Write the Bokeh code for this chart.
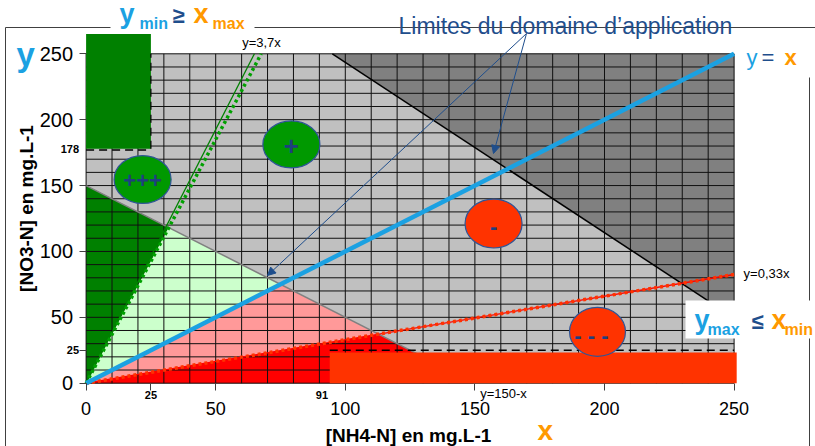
import math
import numpy as np
from bokeh.plotting import figure
from bokeh.models import Range1d, LinearAxis, FixedTicker, Arrow, NormalHead
from bokeh.core.properties import value
from bokeh.embed import file_html
from bokeh.resources import INLINE

# ---------------- data ----------------
x_ticks = [0, 25, 50, 100, 150, 200, 250]
y_ticks = [0, 25, 50, 100, 150, 200, 250]
x_marks = [25, 91]
y_marks = [25, 178]
axis_max = 250
grid_step = 10

slope_high = 3.7          # y = 3,7x
slope_high_trace = 3.85   # solid trace drawn next to it
slope_equal = 1.0         # y = x
slope_low = 0.33          # y = 0,33x
sum_limit = 150           # y = 150 - x
domain_top_x = [95, 240]  # upper limit of the application domain
domain_top_y = [250, 62.5]

green_zone_x = [0, 25]      # x_max
green_zone_y = [178, 265]   # y_min
red_zone_x = [94, 251]
red_zone_y = [0, 23.3]
red_limit_y = 25

classes = ["+++", "+", "-", "-  -  -"]
class_x = [21.8, 79.2, 157.2, 197.3]
class_y = [154.6, 181.2, 121.2, 39.0]
class_w = [22.0, 22.0, 22.0, 21.6]
class_h = [36.4, 35.7, 37.2, 37.2]
class_fill = ["#009900", "#009900", "#FF3300", "#FF3300"]

# ---------------- layout helpers (pixel -> data) ----------------
W, H = 815, 446
X0PX, SX = 85.6, 2.592
Y0PX, SY = 382.7, 1.3176
def dx(px): return (px - X0PX) / SX
def dy(py): return (Y0PX - py) / SY

BLUE = "#1BA1E2"
NAVY = "#1F4E8C"
ORANGE = "#FF9900"
FONT = "Liberation Sans"

p = figure(width=W, height=H, output_backend="svg", toolbar_location=None,
           x_range=Range1d(dx(0), dx(W)), y_range=Range1d(dy(H), dy(0)),
           x_axis_location=None, y_axis_location=None, min_border=0)
p.outline_line_color = None
p.grid.visible = False
p.background_fill_color = "white"

def txt(xpx, base_px, s, size, color="black", style="normal", align="left", angle=0.0):
    # anchor on the text's middle, placed so that the baseline lands at base_px
    p.text(x=[dx(xpx)], y=[dy(base_px - 0.3 * size)], text=[s], text_font=value(FONT),
           text_font_size=value(f"{size}px"), text_font_style=value(style),
           text_color=color, text_align=value(align), text_baseline=value("middle"),
           angle=angle)

# background
p.quad(left=[0], right=[axis_max], bottom=[0], top=[axis_max], fill_color="#C0C0C0", line_color=None)

# dark grey region above the domain's upper limit
k = (domain_top_y[1] - domain_top_y[0]) / (domain_top_x[1] - domain_top_x[0])
y_at_max = domain_top_y[0] + k * (axis_max - domain_top_x[0])
p.patch([domain_top_x[0], axis_max, axis_max], [axis_max, axis_max, y_at_max],
        fill_color="#808080", line_color=None)

# regions below y = 150 - x
xa = sum_limit / (1 + slope_high)
xb = sum_limit / (1 + slope_equal)
xc = sum_limit / (1 + slope_low)
p.patch([0, 0, xa], [0, sum_limit, sum_limit - xa], fill_color="#008000", line_color=None)
p.patch([0, xa, xb], [0, sum_limit - xa, sum_limit - xb], fill_color="#CCFFCC", line_color=None)
p.patch([0, xb, xc], [0, sum_limit - xb, sum_limit - xc], fill_color="#FF9999", line_color=None)
p.patch([0, xc, sum_limit], [0, sum_limit - xc, 0], fill_color="#FF0000", line_color=None)

# grid
g = np.arange(0, axis_max + grid_step, grid_step)
p.segment(x0=g, y0=0, x1=g, y1=axis_max, line_color="#101010", line_width=1)
p.segment(x0=0, y0=g, x1=axis_max, y1=g, line_color="#101010", line_width=1)

# limit lines
p.line([0, sum_limit], [sum_limit, 0], line_color="#808080", line_width=1.5)
p.line([domain_top_x[0], axis_max], [domain_top_y[0], y_at_max], line_color="black", line_width=1.5)

# y = 3,7x
p.line([0, axis_max / slope_high_trace], [0, axis_max], line_color="#008000", line_width=1.3)
p.line([0, axis_max / slope_high], [0, axis_max], line_color="#00A000", line_width=3.5, line_dash="3 3")
# y = 0,33x
p.line([0, axis_max], [0, axis_max * slope_low], line_color="#FF0000", line_width=1.3)
p.line([0, axis_max], [0, axis_max * slope_low], line_color="#FF3300", line_width=3.5, line_dash="3 3")
# y = x
p.line([0, axis_max], [0, axis_max * slope_equal], line_color=BLUE, line_width=4.5)

# y_min >= x_max zone
p.quad(left=[green_zone_x[0]], right=[green_zone_x[1]], bottom=[green_zone_y[0]], top=[green_zone_y[1]],
       fill_color="#008000", line_color=None)
p.line([0, green_zone_x[1]], [green_zone_y[0] - 1, green_zone_y[0] - 1], line_color="black",
       line_width=1.5, line_dash="8 5")
p.line([green_zone_x[1], green_zone_x[1]], [green_zone_y[0], axis_max], line_color="black",
       line_width=1.2, line_dash="8 5")

# y_max <= x_min zone
p.line([red_zone_x[0], axis_max], [red_limit_y, red_limit_y], line_color="black",
       line_width=1.5, line_dash="8 5")
p.quad(left=[red_zone_x[0]], right=[red_zone_x[1]], bottom=[red_zone_y[0]], top=[red_zone_y[1]],
       fill_color="#FF3300", line_color=None)

# class ellipses
p.ellipse(x=class_x, y=class_y, width=class_w, height=class_h, fill_color=class_fill,
          line_color="#2F5597", line_width=1.2)
sizes = [22, 26, 22, 22]
offs = [-1, -1, -2.5, -2.5]
for cx, cy, s, fs, o in zip(class_x, class_y, classes, sizes, offs):
    p.text(x=[cx], y=[cy + o], text=[s], text_font=value(FONT), text_font_size=value(f"{fs}px"),
           text_font_style=value("bold"), text_color="#1F3F7F", text_align=value("center"),
           text_baseline=value("middle"))

# small line labels
txt(261, 46, "y=3,7x", 13, align="center")
txt(766, 277, "y=0,33x", 13, align="center")
txt(503, 397, "y=150-x", 13, align="center")

# slide frame lines
p.line([dx(5), dx(110)], [dy(27), dy(27)], line_color="#404040", line_width=1)
p.line([dx(254), dx(W)], [dy(27), dy(27)], line_color="#404040", line_width=1)
p.line([dx(5), dx(5)], [dy(27), dy(H)], line_color="#404040", line_width=1)
p.line([dx(809), dx(809)], [dy(77), dy(H)], line_color="#404040", line_width=1)

# white box for y_max <= x_min
p.quad(left=[dx(685)], right=[dx(W)], top=[dy(300)], bottom=[dy(338)], fill_color="white", line_color=None)
txt(694, 328, "y", 27, BLUE, "bold")
txt(707, 334, "max", 16, BLUE, "bold")
txt(751, 328, "≤", 22, NAVY, "bold")
txt(771, 328, "x", 27, ORANGE, "bold")
txt(784, 334, "min", 16, ORANGE, "bold")

# title y_min >= x_max
txt(119, 22, "y", 27, BLUE, "bold")
txt(139, 28, "min", 16, BLUE, "bold")
txt(172, 22, "≥", 22, NAVY, "bold")
txt(193, 22, "x", 27, ORANGE, "bold")
txt(212, 28, "max", 16, ORANGE, "bold")

# y = x label
txt(746, 64, "y", 22, BLUE)
txt(761, 64, "=", 22, NAVY)
txt(784, 64, "x", 22, ORANGE, "bold")

# Limites du domaine d'application + arrows
txt(398, 32, "Limites du domaine d\u2019application", 23, NAVY)
for hx, hy in [(493, 153), (267, 275)]:
    p.add_layout(Arrow(end=NormalHead(size=8, fill_color=NAVY, line_color=NAVY),
                       x_start=dx(526), y_start=dy(33), x_end=dx(hx), y_end=dy(hy),
                       line_color=NAVY, line_width=1))

# big axis letters
txt(16, 64, "y", 33, BLUE, "bold")
txt(537, 438, "x", 28, ORANGE, "bold")

# axis titles
txt(408, 441, "[NH4-N] en mg.L-1", 19, "black", "bold", align="center")
p.text(x=[dx(26)], y=[dy(208)], text=["[NO3-N] en mg.L-1"], text_font=value(FONT),
       text_font_size=value("19px"), text_font_style=value("bold"), text_color="black",
       text_align=value("center"), text_baseline=value("middle"), angle=math.pi / 2)

# axes
def make_axis(ticks, size, bold, tick_out, standoff, overrides=None):
    ax = LinearAxis(ticker=FixedTicker(ticks=ticks), fixed_location=0)
    ax.axis_line_color = None
    ax.major_tick_out = tick_out
    ax.major_tick_in = 0
    ax.major_tick_line_color = "#404040" if tick_out else None
    ax.minor_tick_line_color = None
    ax.major_label_text_font = FONT
    ax.major_label_text_font_size = f"{size}px"
    ax.major_label_text_font_style = "bold" if bold else "normal"
    ax.major_label_text_color = "black"
    ax.major_label_standoff = standoff
    if overrides:
        ax.major_label_overrides = overrides
    return ax

p.add_layout(make_axis(x_ticks, 18, False, 7, 9, {25: " "}), "below")
p.add_layout(make_axis(x_marks, 11, True, 0, 8), "below")
p.add_layout(make_axis(y_ticks, 20, False, 7, 6, {25: " "}), "left")
p.add_layout(make_axis(y_marks, 11, True, 0, 7), "left")

open("out.html", "w").write(file_html(p, INLINE))
